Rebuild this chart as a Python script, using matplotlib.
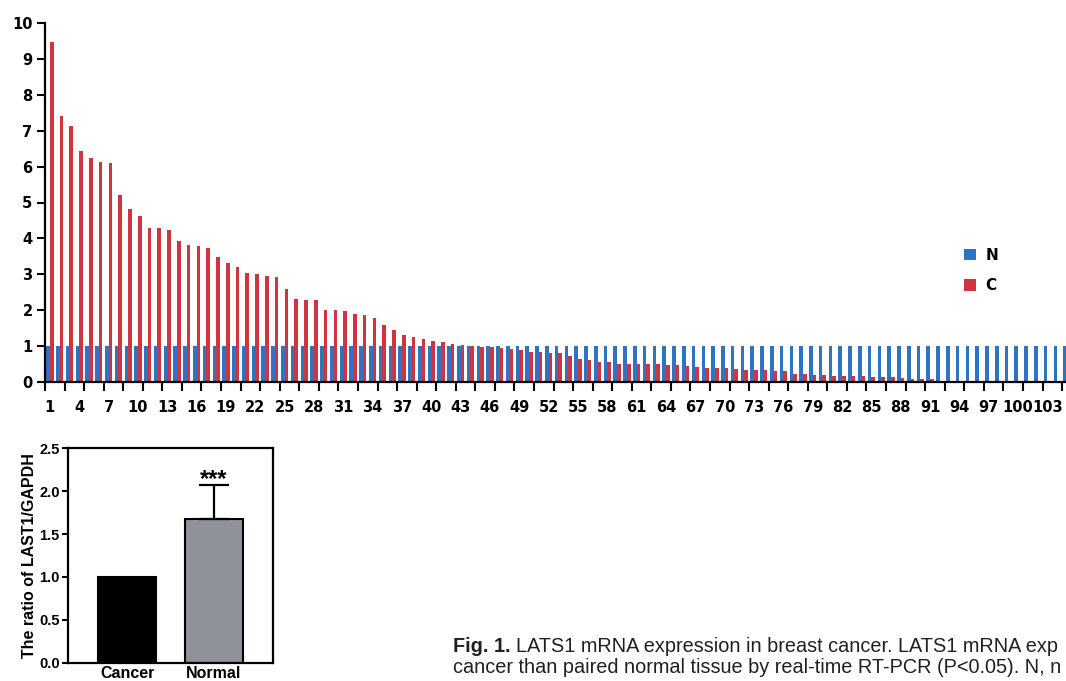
import matplotlib
matplotlib.use("Agg")
import matplotlib.pyplot as plt
import numpy as np

# top chart: per-sample LATS1 ratio, normal (N) vs cancer (C)
c_values = [
    9.47, 7.41, 7.14, 6.43, 6.25, 6.12, 6.11, 5.22, 4.81, 4.63,
    4.29, 4.28, 4.23, 3.92, 3.81, 3.79, 3.73, 3.48, 3.31, 3.21,
    3.03, 3.00, 2.94, 2.92, 2.60, 2.32, 2.29, 2.28, 2.01, 2.01,
    1.97, 1.90, 1.87, 1.77, 1.59, 1.46, 1.30, 1.25, 1.19, 1.15,
    1.11, 1.05, 1.02, 1.00, 0.98, 0.97, 0.94, 0.92, 0.88, 0.84,
    0.84, 0.82, 0.82, 0.72, 0.65, 0.60, 0.57, 0.57, 0.51, 0.50,
    0.50, 0.49, 0.49, 0.47, 0.46, 0.45, 0.41, 0.39, 0.38, 0.38,
    0.36, 0.34, 0.33, 0.33, 0.32, 0.31, 0.23, 0.22, 0.20, 0.19,
    0.18, 0.18, 0.16, 0.16, 0.14, 0.14, 0.13, 0.10, 0.08, 0.08,
    0.07, 0.04, 0.0, 0.0, 0.0, 0.0, 0.0, 0.0, 0.0, 0.0,
    0.0, 0.0, 0.0, 0.0, 0.0,
]
n_values = [1.0] * len(c_values)
samples = list(range(1, len(c_values) + 1))

# bottom chart: group means
groups = ["Cancer", "Normal"]
group_means = [1.0, 1.68]
group_err_up = [0.0, 0.39]

BLUE = "#2F74C2"
RED = "#CF3440"
ARIAL = "Liberation Sans"

W, H = 1066, 681
fig = plt.figure(figsize=(W / 100, H / 100), dpi=100)

# ---- top chart ----
ax = fig.add_axes([45 / W, 299 / H, 1 - 45 / W, 359 / H])
x = np.array(samples)
bw = 0.37
b_n = ax.bar(x - bw / 2, n_values, width=bw, color=BLUE, linewidth=0, label="N")
b_c = ax.bar(x + bw / 2, c_values, width=bw, color=RED, linewidth=0, label="C")

ax.set_xlim(0.5, 104.9)
ax.set_ylim(0, 10)
ax.spines["top"].set_visible(False)
ax.spines["right"].set_visible(False)
for s in ("left", "bottom"):
    ax.spines[s].set_linewidth(1.6)

ax.set_yticks(range(0, 11))
ax.tick_params(axis="y", length=6, width=1.5, pad=3, labelsize=10.5)
ax.set_xticks(np.arange(0.5, 106, 2))
ax.set_xticklabels([])
ax.tick_params(axis="x", which="major", length=6.5, width=1.5)
ax.set_xticks(samples[::3], minor=True)
ax.set_xticklabels([str(s) for s in samples[::3]], minor=True)
ax.tick_params(axis="x", which="minor", length=0, pad=13, labelsize=10.5)
for lab in ax.get_yticklabels() + ax.get_xticklabels(minor=True):
    lab.set_fontweight("bold")

fig.legend(handles=[b_n, b_c], loc="upper left",
           bbox_to_anchor=(950 / W, 1 - 234 / H), frameon=False,
           handlelength=0.8, handleheight=0.8, handletextpad=0.6,
           labelspacing=1.0, prop={"weight": "bold", "size": 11})

# ---- bottom chart ----
ax2 = fig.add_axes([68 / W, 18.3 / H, 205 / W, 214.4 / H])
pos = np.arange(len(groups))
ax2.bar(pos, group_means, width=0.66, color=["#000000", "#8F929B"],
        edgecolor="black", linewidth=1.5)
ax2.errorbar(pos[1:], group_means[1:], yerr=[[0.0], group_err_up[1:]],
             fmt="none", ecolor="black", elinewidth=1.6, capsize=10.5,
             capthick=1.6)
ax2.text(pos[1], 2.065, "***", ha="center", va="baseline", fontsize=17,
         fontweight="bold", family=ARIAL)
ax2.set_xlim(-0.68, 1.68)
ax2.set_ylim(0, 2.5)
ax2.set_yticks([0, 0.5, 1.0, 1.5, 2.0, 2.5])
ax2.set_yticklabels(["0.0", "0.5", "1.0", "1.5", "2.0", "2.5"])
ax2.set_xticks(pos)
ax2.set_xticklabels(groups)
ax2.tick_params(axis="x", length=0, pad=2.5)
ax2.tick_params(axis="y", length=4, width=1.5, pad=2)
for lab in ax2.get_xticklabels():
    lab.set_fontweight("bold")
    lab.set_fontsize(11.5)
    lab.set_family(ARIAL)
for lab in ax2.get_yticklabels():
    lab.set_fontweight("bold")
    lab.set_fontsize(10.5)
    lab.set_family(ARIAL)
for s in ax2.spines.values():
    s.set_linewidth(1.6)
ax2.set_ylabel("The ratio of LAST1/GAPDH", fontsize=11.5, fontweight="bold",
               family=ARIAL, va="center")
ax2.yaxis.set_label_coords(-0.19, 0.5)

# ---- caption ----
cap_x = 453 / W
cap_size = 14.3
t1 = fig.text(cap_x, 1 - 652 / H, "Fig. 1.", fontsize=cap_size,
              fontweight="bold", family=ARIAL, va="baseline", color="#231F20")
r = fig.canvas.get_renderer()
bb = t1.get_window_extent(renderer=r)
fig.text(bb.x1 / W + 5 / W, 1 - 652 / H,
         "LATS1 mRNA expression in breast cancer. LATS1 mRNA exp",
         fontsize=cap_size, family=ARIAL, va="baseline", color="#231F20")
fig.text(cap_x, 1 - 673 / H,
         "cancer than paired normal tissue by real-time RT-PCR (P<0.05). N, n",
         fontsize=cap_size, family=ARIAL, va="baseline", color="#231F20")

fig.savefig("out.png", dpi=100)
